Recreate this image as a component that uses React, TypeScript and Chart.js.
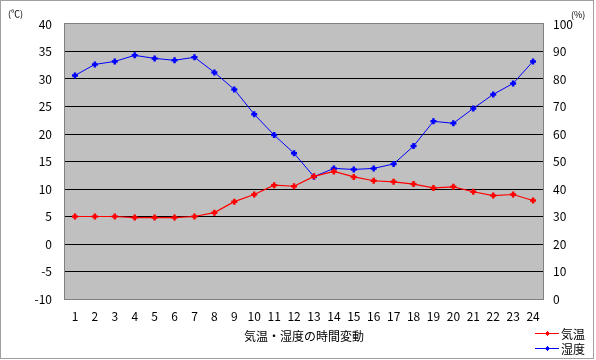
import React, { useEffect, useRef } from "react";
import { Chart, registerables } from "chart.js";

Chart.register(...registerables);

const hours = ["1","2","3","4","5","6","7","8","9","10","11","12","13","14","15","16","17","18","19","20","21","22","23","24"];
const temperature = [5.0, 5.0, 5.0, 4.8, 4.8, 4.8, 5.0, 5.7, 7.7, 9.0, 10.7, 10.5, 12.3, 13.2, 12.2, 11.5, 11.3, 10.9, 10.2, 10.4, 9.5, 8.8, 9.0, 7.9];
const humidity = [81.3, 85.3, 86.4, 88.6, 87.5, 86.8, 87.9, 82.4, 76.2, 67.2, 59.6, 53.0, 44.5, 47.5, 47.1, 47.5, 49.1, 55.6, 64.6, 63.9, 69.3, 74.4, 78.4, 86.4];
const seriesNames = ["気温", "湿度"];
const axisTitle = "気温・湿度の時間変動";
const leftUnit = "(℃)";
const rightUnit = "(%)";

const FONT = "'Noto Sans CJK JP', 'DejaVu Sans', sans-serif";

export default function App() {
  const ref = useRef<HTMLCanvasElement | null>(null);
  useEffect(() => {
    document.body.style.margin = "0";
    const canvas = ref.current!;
    const deco = {
      id: "deco",
      beforeDraw(chart: any) {
        const { ctx, chartArea: a } = chart;
        ctx.save();
        ctx.fillStyle = "#ffffff";
        ctx.fillRect(0, 0, chart.width, chart.height);
        ctx.fillStyle = "#c0c0c0";
        ctx.fillRect(a.left, a.top, a.right - a.left, a.bottom - a.top);
        ctx.restore();
      },
      afterDraw(chart: any) {
        const { ctx, chartArea: a } = chart;
        ctx.save();
        ctx.strokeStyle = "#808080";
        ctx.lineWidth = 1;
        ctx.strokeRect(Math.round(a.left) - 0.5, Math.round(a.top) - 0.5, Math.round(a.right - a.left) + 1, Math.round(a.bottom - a.top) + 1);
        ctx.strokeStyle = "#a0a0a0";
        ctx.strokeRect(0.5, 0.5, 593, 358);
        ctx.fillStyle = "#000";
        ctx.font = `12px ${FONT}`;
        ctx.textAlign = "center";
        ctx.textBaseline = "middle";
        ctx.fillText(axisTitle, (a.left + a.right) / 2, 336);
        ctx.font = `9px ${FONT}`;
        ctx.textAlign = "left";
        ctx.fillText(leftUnit, 8, 14);
        ctx.fillText(rightUnit, 571, 15);
        const colors = ["#ff0000", "#0000ff"];
        const ys = [333, 348];
        for (let i = 0; i < 2; i++) {
          ctx.strokeStyle = colors[i];
          ctx.lineWidth = 1;
          ctx.beginPath();
          ctx.moveTo(535, ys[i] + 0.5);
          ctx.lineTo(559, ys[i] + 0.5);
          ctx.stroke();
          ctx.fillStyle = colors[i];
          ctx.fillRect(546, ys[i] - 1, 3, 3);
          ctx.fillRect(547, ys[i] - 2, 1, 5);
          ctx.fillRect(545, ys[i], 5, 1);
          ctx.fillStyle = "#000";
          ctx.font = `12px ${FONT}`;
          ctx.fillText(seriesNames[i], 561, ys[i] + 1);
        }
        ctx.restore();
      },
    };
    const chart = new Chart(canvas, {
      type: "line",
      data: {
        labels: hours,
        datasets: [
          {
            label: seriesNames[0],
            data: temperature,
            yAxisID: "y",
            borderColor: "#ff0000",
            backgroundColor: "#ff0000",
            borderWidth: 1.2,
            pointStyle: "cross",
            pointRadius: 3,
            pointBorderWidth: 2.5,
            tension: 0,
          },
          {
            label: seriesNames[1],
            data: humidity,
            yAxisID: "y1",
            borderColor: "#0000ff",
            backgroundColor: "#0000ff",
            borderWidth: 1,
            pointStyle: "cross",
            pointRadius: 3,
            pointBorderWidth: 2.5,
            tension: 0,
          },
        ],
      },
      options: {
        responsive: false,
        animation: false,
        layout: { padding: { top: 24, left: 0, right: 0, bottom: 0 } },
        plugins: { legend: { display: false }, tooltip: { enabled: false } },
        scales: {
          x: {
            type: "category",
            offset: true,
            grid: { display: false, drawTicks: false },
            border: { display: false },
            ticks: { color: "#000", font: { family: FONT, size: 12 }, padding: 10, maxRotation: 0, autoSkip: false },
            afterFit: (s: any) => { s.height = 61; },
          },
          y: {
            position: "left",
            min: -10,
            max: 40,
            grid: {
              color: (c: any) => (c.tick && (c.tick.value === 40 || c.tick.value === -10) ? "rgba(0,0,0,0)" : "#000"),
              lineWidth: 1,
              drawTicks: false,
            },
            border: { display: false },
            ticks: { stepSize: 5, color: "#000", font: { family: FONT, size: 12 }, padding: 13 },
            afterFit: (s: any) => { s.width = 65; },
          },
          y1: {
            position: "right",
            min: 0,
            max: 100,
            grid: { display: false, drawTicks: false },
            border: { display: false },
            ticks: { stepSize: 10, color: "#000", font: { family: FONT, size: 12 }, padding: 10 },
            afterFit: (s: any) => { s.width = 53; },
          },
        },
      },
      plugins: [deco],
    } as any);
    return () => chart.destroy();
  }, []);
  return (
    <div style={{ position: "fixed", left: 0, top: 0, width: 596, height: 360 }}>
      <canvas ref={ref} width={596} height={360} style={{ width: 596, height: 360, display: "block" }} />
    </div>
  );
}
